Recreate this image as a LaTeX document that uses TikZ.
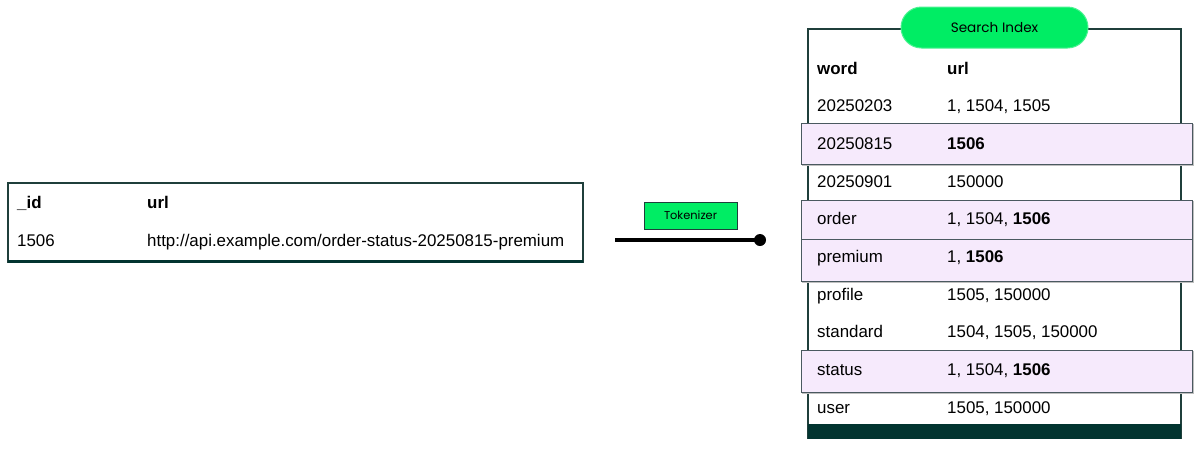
\documentclass[tikz,border=0pt]{standalone}
\usepackage{fontspec}
\setmainfont{Liberation Sans}
\newfontfamily\pop{Poppins}
\definecolor{mgreen}{HTML}{00ED64}
\definecolor{mteal}{HTML}{023430}
\definecolor{mborder}{HTML}{1F3F3B}
\definecolor{hlfill}{HTML}{F6EAFC}
\definecolor{hlborder}{HTML}{4A5960}
\tikzset{
  cell/.style={anchor=base west, inner sep=0pt, font=\fontsize{16.9}{20}\selectfont},
  hcell/.style={cell, font=\fontsize{16.9}{20}\selectfont\bfseries},
  hlrow/.style={fill=hlfill, draw=hlborder, line width=1pt},
  hlshadow/.style={draw=black!25, line width=1.2pt},
  tablebox/.style={draw=mborder, line width=1.1pt},
}
\begin{document}
\begin{tikzpicture}[x=1pt,y=-1pt]
\useasboundingbox (0,0) rectangle (1200,448);
\fill[white] (0,0) rectangle (1200,448);

% ---------- left table ----------
\draw[tablebox] (8,183) rectangle (583,262);
\draw[mteal, line width=3pt] (8,261.5) -- (583,261.5);
\node[hcell] (lid) at (17,208) {\_id};
\node[hcell] (lurl) at (147,208) {url};
\node[cell] (l1506) at (17,246) {1506};
\node[cell] (lhttp) at (147,246) {http://api.example.com/order-status-20250815-premium};

% ---------- tokenizer ----------
\node[draw=mborder, fill=mgreen, line width=0.8pt, minimum width=93pt, minimum height=27pt, inner sep=0pt,
      font=\pop\fontsize{11.4}{13}\selectfont] (tok) at (690.5,215.5) {Tokenizer};
\coordinate (ls) at (615,240);
\node[circle, fill=black, minimum size=12pt, inner sep=0pt] (dot) at (760,240) {};
\draw[black, line width=3.2pt] (ls) -- (dot.center);

% ---------- search index ----------
\draw[tablebox] (808,29) rectangle (1181,438);
\fill[mteal] (808,424) rectangle (1181,438.5);

% highlighted rows
\foreach \a/\b in {123/164, 200/239, 239/281, 350/392}{
  \draw[hlshadow] (802.2,\a+1.2) rectangle (1193.2,\b+1.2);
  \draw[hlrow] (801,\a) rectangle (1192,\b);
}

\node[rounded corners=20.5pt, fill=mgreen, draw=mgreen!70!white, line width=1pt,
      minimum width=187pt, minimum height=41pt, inner sep=0pt,
      font=\pop\fontsize{13.6}{15}\selectfont] (si) at (994.5,27.5) {Search Index};

\node[hcell] (hw) at (817,74) {word};
\node[hcell] (hu) at (947,74) {url};

\node[cell] (w1) at (817,111) {20250203};
\node[cell] (u1) at (947,111) {1, 1504, 1505};
\node[cell] (w2) at (817,149) {20250815};
\node[cell] (u2) at (947,149) {\textbf{1506}};
\node[cell] (w3) at (817,187) {20250901};
\node[cell] (u3) at (947,187) {150000};
\node[cell] (w4) at (817,224) {order};
\node[cell] (u4) at (947,224) {1, 1504, \textbf{1506}};
\node[cell] (w5) at (817,262) {premium};
\node[cell] (u5) at (947,262) {1, \textbf{1506}};
\node[cell] (w6) at (817,300) {profile};
\node[cell] (u6) at (947,300) {1505, 150000};
\node[cell] (w7) at (817,337) {standard};
\node[cell] (u7) at (947,337) {1504, 1505, 150000};
\node[cell] (w8) at (817,375) {status};
\node[cell] (u8) at (947,375) {1, 1504, \textbf{1506}};
\node[cell] (w9) at (817,413) {user};
\node[cell] (u9) at (947,413) {1505, 150000};
\end{tikzpicture}
\end{document}
